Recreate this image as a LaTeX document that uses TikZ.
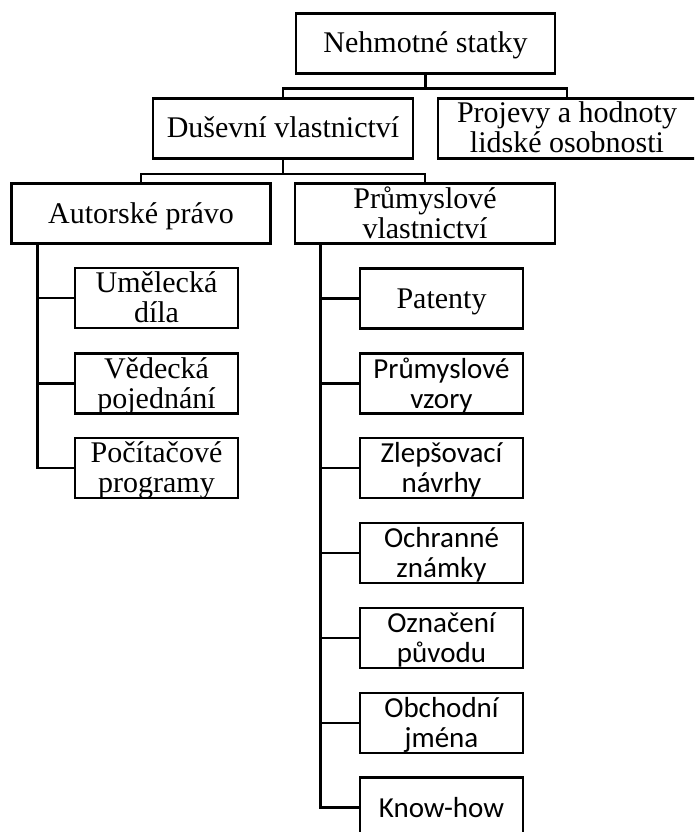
\documentclass[tikz,border=0pt]{standalone}
\usepackage{fontspec}
\setmainfont{Liberation Serif}
\newfontfamily\calfont{Carlito}
\begin{document}
\begin{tikzpicture}[x=1pt,y=-1pt,
  box/.style={draw, line width=2.6pt, fill=white, inner sep=0pt, align=center,
    text depth=0pt, text height=19pt, minimum height=60pt},
  two/.style={text height=49pt},
  ser/.style={font=\fontsize{30}{30}\selectfont},
  cal/.style={font=\calfont\fontsize{29}{30}\selectfont},
  conn/.style={line width=2.6pt}]
\path[use as bounding box, clip] (0,0) rectangle (694,832);

% top levels
\node[box,ser,minimum width=259pt] (root) at (425.5,43.5) {Nehmotné statky};
\node[box,ser,minimum width=260pt] (dus) at (283,128.5) {Duševní vlastnictví};
\node[box,ser,two,minimum width=258pt] (proj) at (567,128.5) {Projevy a hodnoty\\lidské osobnosti};
\node[box,ser,minimum width=259pt] (aut) at (141,213.5) {Autorské právo};
\node[box,ser,two,minimum width=260pt] (prum) at (425,213.5) {Průmyslové\\vlastnictví};

% left children
\node[box,ser,two,minimum width=163pt] (a1) at (156.5,298) {Umělecká\\díla};
\node[box,ser,two,minimum width=163pt] (a2) at (156.5,383.5) {Vědecká\\pojednání};
\node[box,ser,two,minimum width=163pt] (a3) at (156.5,468) {Počítačové\\programy};

% right children
\node[box,ser,minimum width=163pt] (p1) at (441.5,298.5) {Patenty};
\node[box,cal,two,minimum width=163pt] (p2) at (441.5,383.5) {Průmyslové\\vzory};
\node[box,cal,two,minimum width=163pt] (p3) at (441.5,468) {Zlepšovací\\návrhy};
\node[box,cal,two,minimum width=163pt] (p4) at (441.5,553) {Ochranné\\známky};
\node[box,cal,two,minimum width=163pt] (p5) at (441.5,638) {Označení\\původu};
\node[box,cal,two,minimum width=163pt] (p6) at (441.5,723) {Obchodní\\jména};
\node[box,cal,minimum width=163pt] (p7) at (441.5,807.5) {Know-how};

% connectors
\draw[conn] (root.south) -- ++(0,14) coordinate (j1);
\draw[conn] (dus.north) |- (j1) -| (proj.north);
\draw[conn] (dus.south) -- ++(0,14) coordinate (j2);
\draw[conn] (aut.north) |- (j2) -| (prum.north);

\coordinate (lt) at ([xshift=27pt]aut.south west);
\draw[conn] (lt) |- (a3.west);
\foreach \n in {a1,a2} \draw[conn] (lt |- \n.west) -- (\n.west);

\coordinate (rt) at ([xshift=27pt]prum.south west);
\draw[conn] (rt) |- (p7.west);
\foreach \n in {p1,p2,p3,p4,p5,p6} \draw[conn] (rt |- \n.west) -- (\n.west);
\end{tikzpicture}
\end{document}
